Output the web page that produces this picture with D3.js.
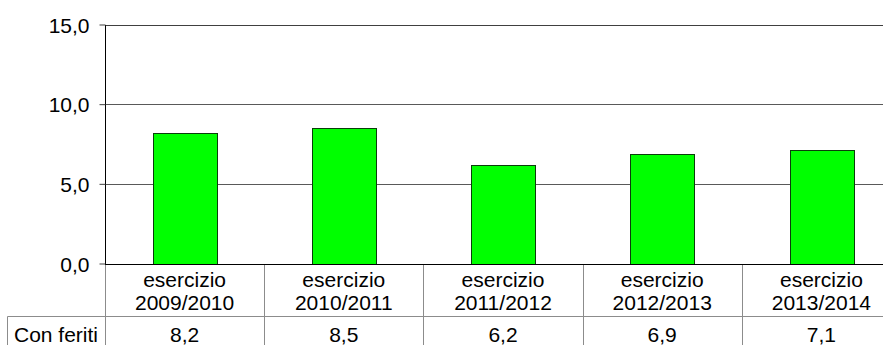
<!DOCTYPE html>
<html>
<head>
<meta charset="utf-8">
<script src="https://cdn.jsdelivr.net/npm/d3@7"></script>
<style>
  html, body { margin: 0; padding: 0; background: #fff; overflow: hidden; }
  svg { display: block; font-family: "Liberation Sans", Arial, sans-serif; }
</style>
</head>
<body>
<svg id="chart" width="883" height="345"></svg>
<script>
// Incidents with injured people, per fiscal year
const categories = ["esercizio 2009/2010", "esercizio 2010/2011", "esercizio 2011/2012", "esercizio 2012/2013", "esercizio 2013/2014"];
const seriesName = "Con feriti";
const values = [8.2, 8.5, 6.2, 6.9, 7.1];
const yTicks = [0, 5, 10, 15];

const svg = d3.select("#chart");
const W = 883, H = 345;
const left = 105, bandW = 159.2;
const fmt = v => d3.format(".1f")(v).replace(".", ",");

const x = d3.scaleBand()
  .domain(categories)
  .range([left, left + bandW * categories.length])
  .paddingInner(0).paddingOuter(0);
const y = d3.scaleLinear().domain([0, 15]).range([263.5, 24.5]);

const barW = x.bandwidth() * 0.40;
const gridColor = "#595959";
const tableColor = "#8c8c8c";

// horizontal gridlines (top one closes the plot area)
svg.append("g").selectAll("line")
  .data(yTicks.filter(t => t > 0))
  .join("line")
  .attr("x1", left).attr("x2", W)
  .attr("y1", d => Math.round(y(d)) + 0.5).attr("y2", d => Math.round(y(d)) + 0.5)
  .attr("stroke", d => d === 15 ? "#404040" : gridColor)
  .attr("stroke-width", 1);

// bars
svg.append("g").selectAll("rect")
  .data(values)
  .join("rect")
  .attr("x", (d, i) => Math.round(x(categories[i]) + (x.bandwidth() - barW) / 2) + 0.5)
  .attr("y", d => Math.round(y(d)) + 0.5)
  .attr("width", Math.round(barW))
  .attr("height", d => Math.round(y(0)) - Math.round(y(d)))
  .attr("fill", "#00ff00")
  .attr("stroke", "#0b3d0b")
  .attr("stroke-width", 1);

// y axis
const yAxis = d3.axisLeft(y).tickValues(yTicks).tickSize(6).tickPadding(10).tickFormat(fmt);
const gy = svg.append("g").attr("transform", `translate(${left + 0.5},0)`).call(yAxis);
gy.select(".domain").attr("stroke", "#000").attr("d", `M0,${Math.round(y(15))}V${Math.round(y(0))}`);
gy.selectAll(".tick line").attr("stroke", "#404040");
gy.selectAll(".tick text")
  .attr("font-size", 21)
  .attr("fill", "#000")
  .attr("dy", "0.36em");

// baseline at zero
svg.append("line")
  .attr("x1", left).attr("x2", W)
  .attr("y1", Math.round(y(0)) + 0.5).attr("y2", Math.round(y(0)) + 0.5)
  .attr("stroke", "#000");

// data table below the plot
const tableTop = Math.round(y(0)) + 1;
const rowY = 316.5;
const boundaries = categories.map(c => x(c)).concat([x.range()[1]]);

svg.append("g").selectAll("line")
  .data(boundaries)
  .join("line")
  .attr("x1", d => Math.round(d) + 0.5).attr("x2", d => Math.round(d) + 0.5)
  .attr("y1", tableTop).attr("y2", H)
  .attr("stroke", tableColor);

svg.append("line")
  .attr("x1", 7.5).attr("x2", W)
  .attr("y1", rowY).attr("y2", rowY)
  .attr("stroke", tableColor);
svg.append("line")
  .attr("x1", 7.5).attr("x2", 7.5)
  .attr("y1", rowY).attr("y2", H)
  .attr("stroke", tableColor);

// category labels (two lines each)
const catG = svg.append("g").attr("font-size", 21).attr("fill", "#000").attr("text-anchor", "middle");
categories.forEach(c => {
  const parts = c.split(" ");
  const cx = x(c) + x.bandwidth() / 2;
  const t = catG.append("text").attr("x", cx).attr("y", 287);
  t.append("tspan").attr("x", cx).text(parts[0]);
  t.append("tspan").attr("x", cx).attr("dy", 23).text(parts[1]);
});

// series row
svg.append("text")
  .attr("x", (7 + left) / 2).attr("y", 342)
  .attr("font-size", 21).attr("text-anchor", "middle").attr("fill", "#000")
  .text(seriesName);

svg.append("g").selectAll("text")
  .data(values)
  .join("text")
  .attr("x", (d, i) => x(categories[i]) + x.bandwidth() / 2)
  .attr("y", 342)
  .attr("font-size", 21).attr("text-anchor", "middle").attr("fill", "#000")
  .text(d => fmt(d));
</script>
</body>
</html>
